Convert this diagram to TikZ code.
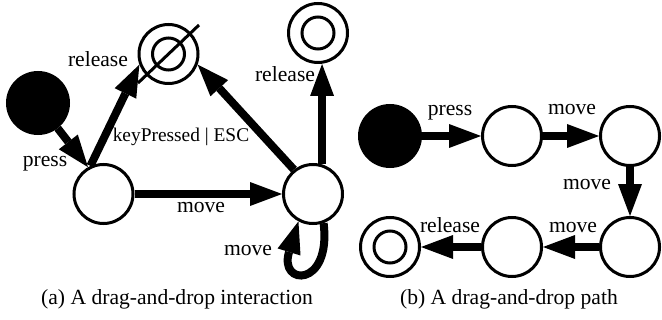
\documentclass[tikz,border=0pt]{standalone}
\usepackage{fontspec}
\setmainfont{Liberation Serif}
\usetikzlibrary{arrows.meta}
\newcommand\lblfont{\fontsize{10.8pt}{13pt}\selectfont}
\newcommand\smlblfont{\fontsize{9.7pt}{12pt}\selectfont}
\begin{document}
\begin{tikzpicture}[x=0.5pt,y=-0.5pt,
  state/.style={circle,draw,line width=1.5pt,minimum size=29.5pt,inner sep=0pt},
  initstate/.style={circle,draw,fill=black,line width=1.5pt,minimum size=30.5pt,inner sep=0pt},
  finalstate/.style={state,path picture={\draw[line width=1.5pt] (path picture bounding box.center) circle[radius=8pt];}},
  arr/.style={line width=4pt,-{Triangle[length=16pt,width=12pt,line width=0pt]}},
  lbl/.style={font=\lblfont,inner sep=0pt,anchor=base}]
\useasboundingbox (0,0) rectangle (662,320);
% (a)
\node[initstate] (I1) at (38,103) {};
\node[state] (A) at (103.5,194) {};
\node[state] (B) at (313,194) {};
\node[finalstate] (C) at (168.5,54) {};
\node[finalstate] (F1) at (318,33) {};
\draw[line width=1.5pt] ([shift={(-30.5,29)}]C.center) -- ([shift={(30.5,-29)}]C.center);
\draw[arr] (I1) -- (A.120);
\draw[arr] (A.115) -- (C.200);
\draw[arr] (A) -- (B);
\draw[arr] (B.128) -- (C.-20);
\draw[arr] (B.73) -- (B.73 |- F1.south);
\draw[arr] (B.-70) .. controls +(8,65) and +(-20,65) .. (B.-118);
\node[lbl] (l1) at (98,67) {release};
\node[lbl] (l2) at (45,167) {press};
\node[lbl,font=\smlblfont] (l3) at (181,142) {keyPressed | ESC};
\node[lbl] (l4) at (201,213) {move};
\node[lbl] (l5) at (285,82) {release};
\node[lbl] (l6) at (248,255) {move};
% (b)
\node[initstate] (I2) at (390,136) {};
\node[state] (P1) at (512,136) {};
\node[state] (P2) at (630,136) {};
\node[state] (P3) at (630,247) {};
\node[state] (P4) at (512,247) {};
\node[finalstate] (F2) at (390,247) {};
\draw[arr] (I2) -- (P1);
\draw[arr] (P1) -- (P2);
\draw[arr] (P2) -- (P3);
\draw[arr] (P3) -- (P4);
\draw[arr] (P4) -- (F2);
\node[lbl] (m1) at (450,116) {press};
\node[lbl] (m2) at (572,115) {move};
\node[lbl] (m3) at (587,190) {move};
\node[lbl] (m4) at (573,232) {move};
\node[lbl] (m5) at (450,232) {release};
% captions
\node[lbl] (capa) at (177,304) {(a) A drag-and-drop interaction};
\node[lbl] (capb) at (509,304) {(b) A drag-and-drop path};
\end{tikzpicture}
\end{document}
